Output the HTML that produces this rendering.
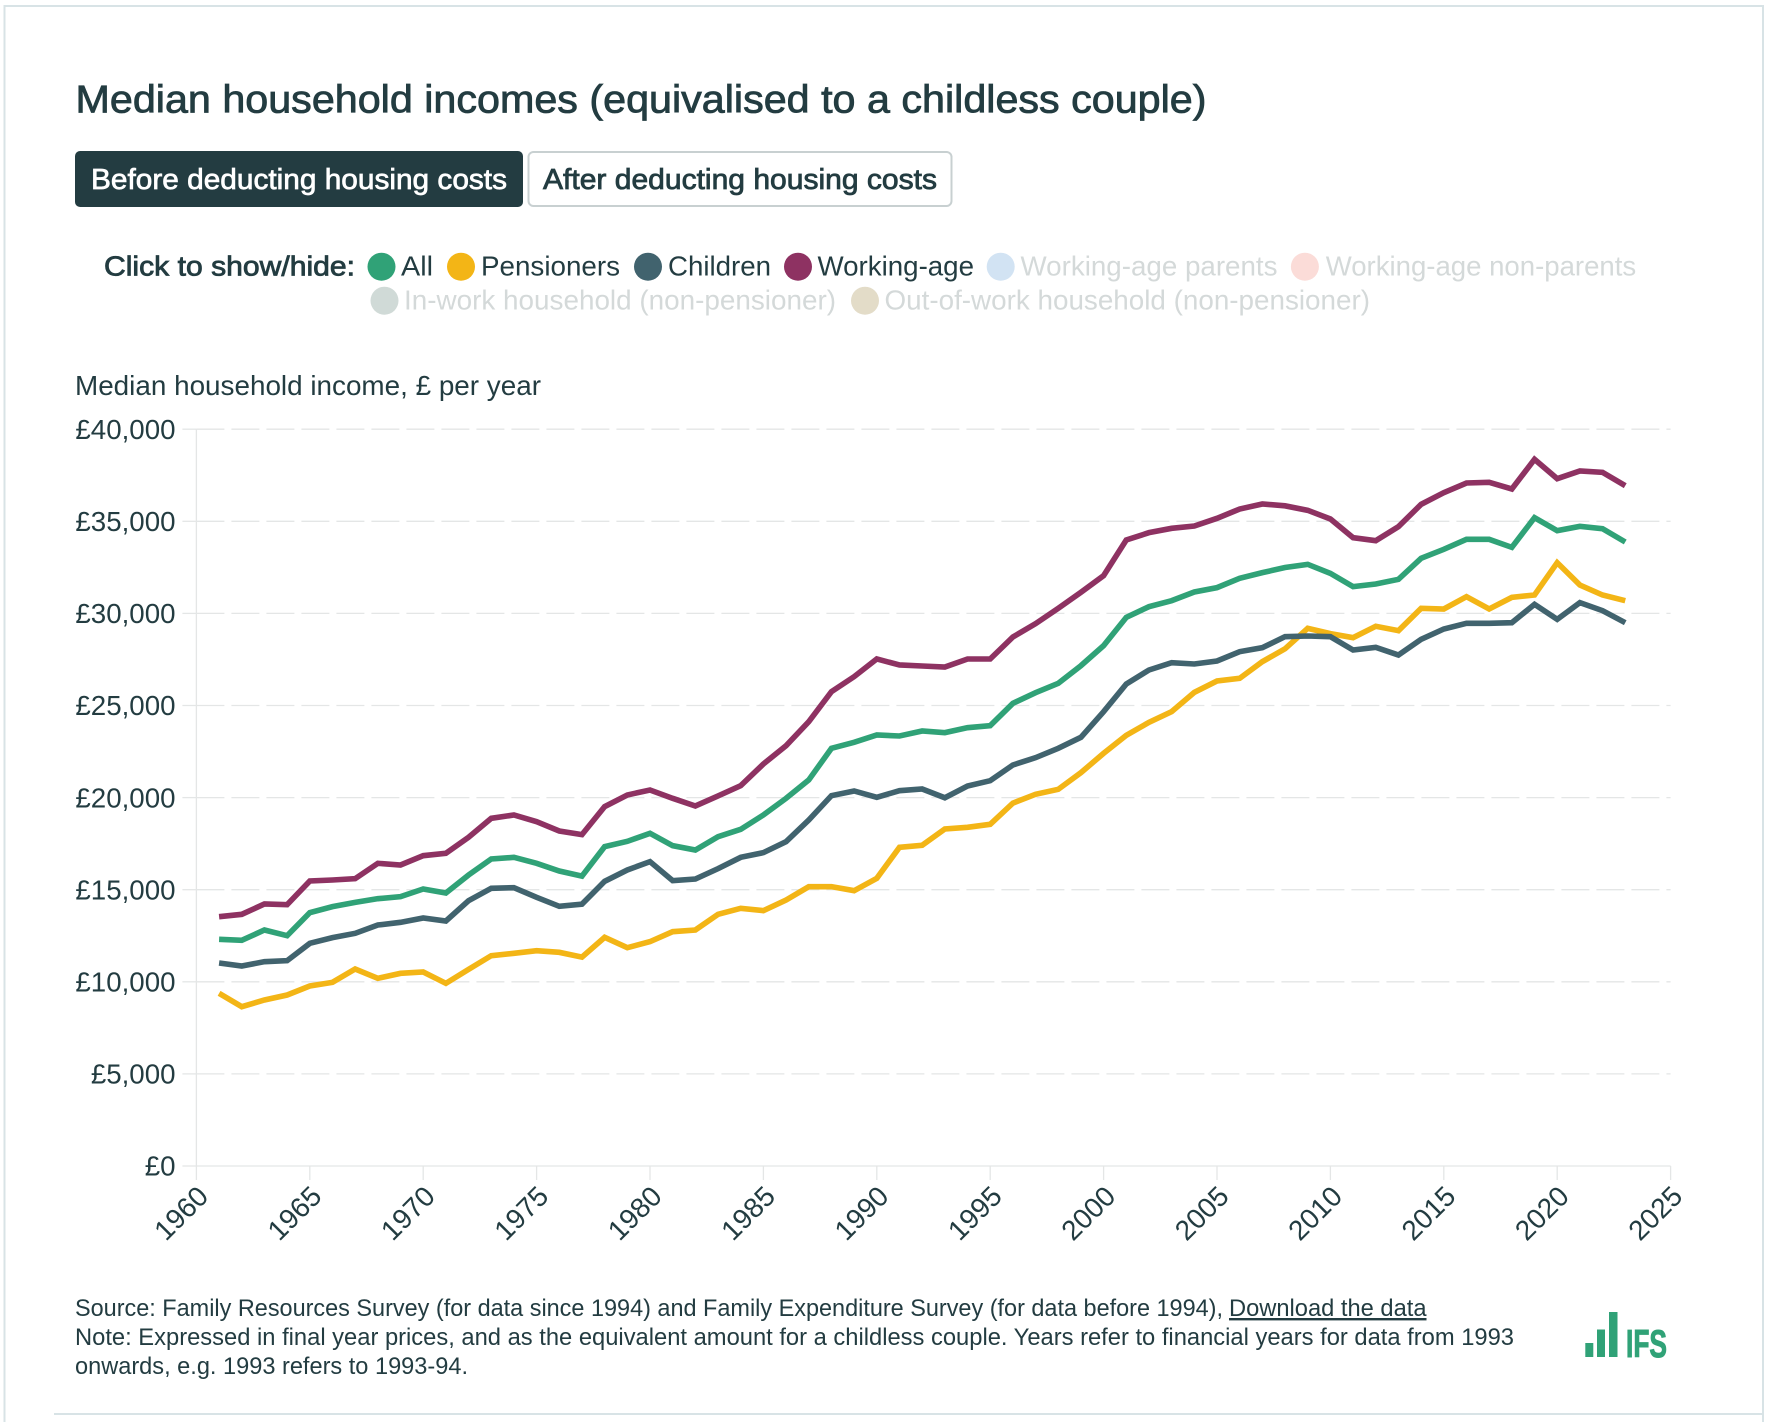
<!DOCTYPE html>
<html lang="en">
<head>
<meta charset="utf-8">
<title>Median household incomes</title>
<style>
html,body{margin:0;padding:0;background:#fff;}
svg{display:block;font-family:"Liberation Sans",Arial,sans-serif;}
text{fill:#233c41;}
.med{stroke:#233c41;stroke-width:.8;}
.faded{fill:#d4d9d9;}
.tick{font-size:28px;}
</style>
</head>
<body>
<svg id="page" xmlns="http://www.w3.org/2000/svg" width="1770" height="1422" viewBox="0 0 1770 1422">
  <g fill="#d8e3e6">
    <rect x="3.5" y="5" width="1760.5" height="2"/>
    <rect x="3.5" y="5" width="2" height="1417"/>
    <rect x="1762" y="5" width="2" height="1417"/>
    <rect x="54" y="1413" width="1708" height="2"/>
  </g>

  <text class="med" x="75.5" y="112.5" font-size="39" textLength="1131" lengthAdjust="spacingAndGlyphs">Median household incomes (equivalised to a childless couple)</text>

  <g>
    <rect x="75" y="151" width="448" height="56" rx="5" fill="#233c41"/>
    <text x="91" y="189" font-size="29" style="fill:#fff;stroke:#fff;stroke-width:.7" textLength="416" lengthAdjust="spacingAndGlyphs">Before deducting housing costs</text>
  </g>
  <g>
    <rect x="528.5" y="152" width="423" height="54" rx="5" fill="#fff" stroke="#c8d0d1" stroke-width="2"/>
    <text class="med" x="543" y="189" font-size="29" textLength="394" lengthAdjust="spacingAndGlyphs">After deducting housing costs</text>
  </g>

  <g font-size="28">
    <text class="med" x="104" y="275.5" textLength="251" lengthAdjust="spacingAndGlyphs">Click to show/hide:</text>
    <g>
      <circle cx="381.5" cy="266.7" r="14" fill="#30a277"/>
      <text x="401" y="275.5" textLength="32" lengthAdjust="spacingAndGlyphs">All</text>
    </g>
    <g>
      <circle cx="461" cy="266.7" r="14" fill="#f3b516"/>
      <text x="481" y="275.5" textLength="139" lengthAdjust="spacingAndGlyphs">Pensioners</text>
    </g>
    <g>
      <circle cx="648" cy="266.7" r="14" fill="#41636e"/>
      <text x="668" y="275.5" textLength="103" lengthAdjust="spacingAndGlyphs">Children</text>
    </g>
    <g>
      <circle cx="798" cy="266.7" r="14" fill="#8e3262"/>
      <text x="817.5" y="275.5" textLength="156.5" lengthAdjust="spacingAndGlyphs">Working-age</text>
    </g>
    <g>
      <circle cx="1000.7" cy="266.7" r="14" fill="#d2e3f3"/>
      <text class="faded" x="1020.5" y="275.5" textLength="257" lengthAdjust="spacingAndGlyphs">Working-age parents</text>
    </g>
    <g>
      <circle cx="1304.9" cy="266.7" r="14" fill="#fbdcd8"/>
      <text class="faded" x="1325.7" y="275.5" textLength="310.5" lengthAdjust="spacingAndGlyphs">Working-age non-parents</text>
    </g>
    <g>
      <circle cx="384.5" cy="300.7" r="14" fill="#d0dad7"/>
      <text class="faded" x="404" y="309.5" textLength="432" lengthAdjust="spacingAndGlyphs">In-work household (non-pensioner)</text>
    </g>
    <g>
      <circle cx="865" cy="300.7" r="14" fill="#e3dcc8"/>
      <text class="faded" x="884.5" y="309.5" textLength="485.5" lengthAdjust="spacingAndGlyphs">Out-of-work household (non-pensioner)</text>
    </g>
  </g>

  <text x="75" y="395" font-size="27.5" textLength="466" lengthAdjust="spacingAndGlyphs">Median household income, £ per year</text>

  <g id="plot"></g>

  <g font-size="24">
    <text x="75" y="1316" textLength="1148" lengthAdjust="spacingAndGlyphs">Source: Family Resources Survey (for data since 1994) and Family Expenditure Survey (for data before 1994),</text>
    <text x="1229" y="1316" text-decoration="underline" textLength="197.5" lengthAdjust="spacingAndGlyphs">Download the data</text>
    <text x="75" y="1345" textLength="1439" lengthAdjust="spacingAndGlyphs">Note: Expressed in final year prices, and as the equivalent amount for a childless couple. Years refer to financial years for data from 1993</text>
    <text x="75" y="1374" textLength="393" lengthAdjust="spacingAndGlyphs">onwards, e.g. 1993 refers to 1993-94.</text>
  </g>

  <g fill="#30a277">
    <rect x="1585.3" y="1343" width="8" height="14"/>
    <rect x="1597" y="1329.5" width="8" height="27.5"/>
    <rect x="1609" y="1312" width="8.5" height="45"/>
    <text x="1626" y="1357" font-size="38.5" font-weight="bold" style="fill:#30a277;stroke:#30a277;stroke-width:1" textLength="41" lengthAdjust="spacingAndGlyphs">IFS</text>
  </g>
</svg>

<script>
var years = [1961,1962,1963,1964,1965,1966,1967,1968,1969,1970,1971,1972,1973,1974,1975,1976,1977,1978,1979,1980,1981,1982,1983,1984,1985,1986,1987,1988,1989,1990,1991,1992,1993,1994,1995,1996,1997,1998,1999,2000,2001,2002,2003,2004,2005,2006,2007,2008,2009,2010,2011,2012,2013,2014,2015,2016,2017,2018,2019,2020,2021,2022,2023];
var allHouseholds = [12305,12251,12812,12505,13753,14079,14314,14513,14622,15038,14821,15798,16667,16757,16432,16015,15740,17337,17626,18061,17391,17156,17880,18278,19056,19961,20956,22676,23001,23399,23345,23617,23526,23797,23905,25118,25697,26204,27163,28249,29787,30366,30692,31162,31398,31904,32212,32490,32664,32175,31451,31596,31850,32990,33478,34021,34021,33587,35197,34492,34727,34600,33876];
var pensioners = [9374,8650,9012,9283,9772,9971,10695,10188,10460,10532,9917,10677,11419,11545,11690,11600,11340,12414,11850,12180,12722,12813,13663,13989,13862,14441,15165,15165,14948,15618,17301,17409,18296,18387,18550,19700,20178,20449,21354,22403,23381,24086,24665,25715,26330,26475,27380,28080,29189,28900,28683,29300,29063,30275,30239,30909,30239,30872,30999,32754,31542,30999,30691];
var children = [11020,10858,11093,11147,12088,12396,12631,13083,13228,13464,13301,14405,15074,15110,14586,14097,14215,15455,16070,16523,15491,15581,16143,16758,17012,17608,18785,20106,20359,20015,20377,20467,19990,20630,20919,21770,22168,22675,23272,24665,26167,26927,27326,27253,27416,27923,28140,28737,28773,28737,28013,28158,27741,28592,29153,29461,29461,29497,30492,29678,30583,30149,29497];
var workingAge = [13536,13663,14224,14188,15472,15527,15599,16432,16341,16848,16975,17843,18875,19056,18694,18187,17990,19509,20142,20413,19961,19545,20088,20649,21825,22820,24123,25752,26566,27526,27200,27145,27090,27525,27525,28719,29443,30276,31144,32049,33985,34384,34619,34745,35162,35668,35940,35840,35596,35125,34112,33949,34709,35921,36555,37079,37116,36754,38364,37315,37731,37659,36935];
var yTicks = [0,5000,10000,15000,20000,25000,30000,35000,40000];
var yTickLabels = ["£0","£5,000","£10,000","£15,000","£20,000","£25,000","£30,000","£35,000","£40,000"];
var xTicks = [1960,1965,1970,1975,1980,1985,1990,1995,2000,2005,2010,2015,2020,2025];

var NS = "http://www.w3.org/2000/svg";
var plot = document.getElementById("plot");
var left = 196.4, right = 1670.6, bottom = 1166, top_ = 429.2;
function xScale(year){ return left + (year - 1960) / (2025 - 1960) * (right - left); }
function yScale(value){ return bottom - value / 40000 * (bottom - top_); }
function make(tag){ return document.createElementNS(NS, tag); }

yTicks.forEach(function(v, i){
  var y = yScale(v);
  var tick = make("line");
  
  
  tick.setAttribute("x1", left - 14);
  tick.setAttribute("x2", left);
  tick.setAttribute("y1", y);
  tick.setAttribute("y2", y);
  tick.setAttribute("stroke", "#e4e6e6");
  tick.setAttribute("stroke-width", "1.3");
  plot.appendChild(tick);
  var grid = make("line");
  
  
  grid.setAttribute("x1", left);
  grid.setAttribute("x2", right);
  grid.setAttribute("y1", y);
  grid.setAttribute("y2", y);
  grid.setAttribute("stroke", "#e4e6e6");
  grid.setAttribute("stroke-width", "1.3");
  if (v !== 0) grid.setAttribute("stroke-dasharray", "28 7");
  plot.appendChild(grid);
  var label = make("text");
  
  
  label.setAttribute("x", 175.5);
  label.setAttribute("y", y + 9.7);
  label.setAttribute("text-anchor", "end");
  label.setAttribute("font-size", "27.7");
  label.textContent = yTickLabels[i];
  plot.appendChild(label);
});

var axis = make("line");


axis.setAttribute("x1", left);
axis.setAttribute("x2", left);
axis.setAttribute("y1", top_);
axis.setAttribute("y2", bottom);
axis.setAttribute("stroke", "#e4e6e6");
axis.setAttribute("stroke-width", "1.3");
plot.appendChild(axis);

xTicks.forEach(function(yr){
  var x = xScale(yr);
  var tick = make("line");
  
  
  tick.setAttribute("x1", x);
  tick.setAttribute("x2", x);
  tick.setAttribute("y1", bottom);
  tick.setAttribute("y2", bottom + 14);
  tick.setAttribute("stroke", "#e4e6e6");
  tick.setAttribute("stroke-width", "1.3");
  plot.appendChild(tick);
  var label = make("text");
  
  
  label.setAttribute("class", "tick");
  label.setAttribute("text-anchor", "end");
  label.setAttribute("transform", "translate(" + (x + 13.5) + " 1198) rotate(-45)");
  label.textContent = yr;
  plot.appendChild(label);
});

function drawSeries(values, color, name){
  var d = values.map(function(v, i){
    return (i ? "L" : "M") + xScale(years[i]).toFixed(2) + " " + yScale(v).toFixed(2);
  }).join(" ");
  var path = make("path");
  
  
  path.setAttribute("d", d);
  path.setAttribute("fill", "none");
  path.setAttribute("stroke", color);
  path.setAttribute("stroke-width", "5.6");
  path.setAttribute("stroke-linejoin", "miter");
  plot.appendChild(path);
}
drawSeries(allHouseholds, "#30a277", "line-all");
drawSeries(pensioners, "#f3b516", "line-pensioners");
drawSeries(children, "#41636e", "line-children");
drawSeries(workingAge, "#8e3262", "line-working-age");
</script>
</body>
</html>
